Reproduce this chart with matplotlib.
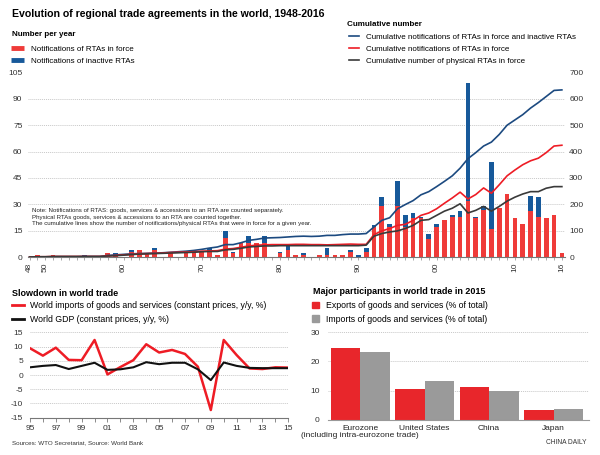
import matplotlib
matplotlib.use("Agg")

import numpy as np
import matplotlib.pyplot as plt
from matplotlib.lines import Line2D
from matplotlib.patches import Patch

plt.rcParams["font.family"] = ["Liberation Sans", "DejaVu Sans"]

# ---- data: regional trade agreements ----
years = np.arange(1948, 2017)
in_force = [0, 1, 0, 1, 0, 0, 0, 0, 0, 0,          # 1948-57
            2, 1, 0, 3, 4, 2, 4, 0, 2, 0,          # 1958-67
            2, 3, 3, 4, 1, 11, 2, 8, 8, 8,         # 1968-77
            8, 0, 2, 4, 1, 1, 0, 1, 1, 1,          # 1978-87
            1, 3, 0, 3, 17, 29, 17, 29, 17, 22,    # 1988-97
            22, 10, 17, 21, 23, 23, 32, 22, 27, 16,  # 1998-2007
            28, 36, 22, 19, 26, 23, 22, 24, 2]     # 2008-16
inactive = [0, 0, 0, 0, 0, 0, 0, 1, 0, 0,
            0, 1, 0, 1, 0, 0, 1, 0, 0, 0,
            0, 0, 0, 1, 0, 4, 1, 0, 4, 0,
            4, 0, 1, 2, 0, 1, 0, 0, 4, 0,
            0, 1, 1, 2, 1, 5, 2, 14, 7, 3,
            1, 3, 2, 0, 1, 3, 67, 1, 2, 38,
            0, 0, 0, 0, 9, 11, 0, 0, 0]
cum_total = [0, 0, 0, 1, 1, 1, 1, 2, 2, 2,
             6, 8, 10, 12, 13, 14, 15, 16, 18, 20,
             22, 25, 29, 34, 38, 47, 47, 54, 63, 67,
             72, 73, 74, 76, 78, 79, 78, 79, 82, 82,
             85, 87, 87, 89, 114, 139, 149, 183, 199, 214,
             236, 248, 267, 287, 308, 337, 373, 396, 421, 436,
             465, 500, 520, 540, 565, 586, 609, 632, 634]
cum_force = [0, 1, 1, 2, 2, 2, 2, 2, 2, 2,
             4, 6, 8, 10, 12, 13, 14, 15, 17, 18,
             19, 20, 22, 23, 24, 30, 32, 37, 42, 45,
             46, 47, 47, 47, 48, 48, 47, 47, 46, 47,
             48, 49, 48, 48, 85, 99, 108, 120, 124, 139,
             158, 167, 183, 204, 224, 246, 220, 237, 262, 242,
             274, 308, 330, 350, 365, 375, 396, 421, 424]
cum_physical = [0, 1, 1, 2, 2, 2, 2, 2, 2, 2,
                4, 5, 7, 9, 11, 12, 13, 14, 15, 16,
                17, 18, 20, 21, 21, 27, 29, 33, 38, 40,
                42, 42, 43, 43, 43, 43, 43, 43, 43, 43,
                43, 43, 43, 45, 79, 89, 95, 99, 108, 120,
                139, 142, 158, 174, 185, 202, 167, 177, 192, 174,
                192, 212, 227, 239, 248, 248, 261, 267, 267]
rta_ticks = [1948, 1950, 1960, 1970, 1980, 1990, 2000, 2010, 2016]
rta_ticklabels = ["48", "50", "60", "70", "80", "90", "00", "10", "16"]

# ---- data: slowdown in world trade ----
trade_years = np.arange(1995, 2016)
world_imports = [9.4, 6.8, 9.6, 5.3, 5.2, 12.3, 0.2, 2.8, 5.2, 10.8, 7.9,
                 8.8, 7.4, 2.9, -12.3, 12.3, 7.0, 2.3, 2.1, 2.7, 2.6]
world_gdp = [2.7, 3.2, 3.5, 2.1, 3.2, 4.3, 1.8, 2.0, 2.7, 4.5, 3.8,
             4.3, 4.3, 2.0, -1.8, 4.4, 3.2, 2.5, 2.4, 2.4, 2.4]

# ---- data: major participants ----
participants = ["Eurozone", "United States", "China", "Japan"]
eurozone_note = "(including intra-eurozone trade)"
exports_share = [24.7, 10.4, 11.3, 3.3]
imports_share = [23.1, 13.4, 9.9, 3.8]

RED = "#ef3b39"
BLUE = "#17599a"
NAVY = "#1c4a80"
LINE_RED = "#ee1c25"
DARK = "#3a3a3a"
GREY = "#9a9a9a"
GRID = dict(color="#c8c8c8", linestyle=(0, (1, 1)), linewidth=0.7)

fig = plt.figure(figsize=(6, 4.55), dpi=100)

# ================= top chart =================
ax = fig.add_axes([28 / 600, 1 - 257 / 455, 537 / 600, 184.5 / 455])
ax.bar(years, in_force, width=0.6, color=RED, zorder=2)
ax.bar(years, inactive, width=0.6, bottom=in_force, color=BLUE, zorder=2)
ax.set_xlim(1947.8, 2016.4)
ax.set_ylim(0, 105)
ax.set_yticks(np.arange(0, 106, 15))
ax.yaxis.grid(True, **GRID)
ax.set_axisbelow(True)
ax.set_xticks(rta_ticks)
ax.set_xticklabels(rta_ticklabels, rotation=90)
ax.set_xticks(years, minor=True)
ax.tick_params(axis="y", length=0, pad=4, labelsize=6, colors="#333333")
ax.tick_params(axis="x", which="both", length=2, width=0.5, color="#888888",
               pad=2, labelsize=6, labelcolor="#333333")
for s in ["top", "right", "left"]:
    ax.spines[s].set_visible(False)
ax.spines["bottom"].set_color("#777777")
ax.spines["bottom"].set_linewidth(0.8)

ax2 = ax.twinx()
ax2.plot(years, cum_total, color=NAVY, lw=1.2, zorder=3)
ax2.plot(years, cum_force, color=LINE_RED, lw=1.2, zorder=3)
ax2.plot(years, cum_physical, color=DARK, lw=1.2, zorder=3)
ax2.set_ylim(0, 700)
ax2.set_yticks(np.arange(0, 701, 100))
ax2.tick_params(axis="y", length=0, pad=3, labelsize=6, colors="#333333")
for s in ax2.spines.values():
    s.set_visible(False)

note = ("Note: Notifications of RTAS: goods, services & accessions to an RTA are counted separately.\n"
        "Physical RTAs goods, services & accessions to an RTA are counted together.\n"
        "The cumulative lines show the number of notifications/physical RTAs that were in force for a given year.")
fig.text(32 / 600, 1 - 208.5 / 455, note, fontsize=4.45, va="top", ha="left",
         color="#222222", linespacing=1.3)

fig.text(12 / 600, 1 - 14 / 455,
         "Evolution of regional trade agreements in the world, 1948-2016",
         fontsize=7.6, fontweight="bold", va="center", ha="left")

fig.text(12 / 600, 1 - 35 / 455, "Number per year", fontsize=5.8,
         fontweight="bold", va="center", ha="left")
fig.legend(
    handles=[Line2D([], [], color=RED, lw=3.5, solid_capstyle="butt"),
             Line2D([], [], color=BLUE, lw=3.5, solid_capstyle="butt")],
    labels=["Notifications of RTAs in force", "Notifications of inactive RTAs"],
    loc="upper left", bbox_to_anchor=(11 / 600, 1 - 45 / 455), frameon=False,
    fontsize=5.8, handlelength=1.6, handletextpad=0.9, labelspacing=0.55,
    borderpad=0, borderaxespad=0)

fig.text(347 / 600, 1 - 24 / 455, "Cumulative number", fontsize=5.8,
         fontweight="bold", va="center", ha="left")
fig.legend(
    handles=[Line2D([], [], color=NAVY, lw=1.2),
             Line2D([], [], color=LINE_RED, lw=1.2),
             Line2D([], [], color=DARK, lw=1.2)],
    labels=["Cumulative notifications of RTAs in force and inactive RTAs",
            "Cumulative notifications of RTAs in force",
            "Cumulative number of physical RTAs in force"],
    loc="upper left", bbox_to_anchor=(349 / 600, 1 - 33 / 455), frameon=False,
    fontsize=5.8, handlelength=1.2, handletextpad=0.9, labelspacing=0.55,
    borderpad=0, borderaxespad=0)

# ================= bottom left =================
bx = fig.add_axes([30 / 600, 1 - 417.7 / 455, 258.3 / 600, 85.4 / 455])
bx.plot(trade_years, world_imports, color=LINE_RED, lw=1.8, zorder=3)
bx.plot(trade_years, world_gdp, color="#111111", lw=1.5, zorder=3)
bx.set_xlim(1995, 2015)
bx.set_ylim(-15, 15)
bx.set_yticks(np.arange(-15, 16, 5))
bx.set_yticklabels([str(v) for v in np.arange(-15, 16, 5)])
bx.yaxis.grid(True, **GRID)
bx.set_axisbelow(True)
bx.set_xticks(trade_years, minor=True)
bx.set_xticks(trade_years[::2])
bx.set_xticklabels([f"{y % 100:02d}" for y in trade_years[::2]])
bx.tick_params(axis="y", length=0, pad=5, labelsize=6, colors="#333333")
bx.tick_params(axis="x", which="both", length=3, width=0.6, color="#777777",
               pad=2, labelsize=6, labelcolor="#333333")
for s in ["top", "right", "left"]:
    bx.spines[s].set_visible(False)
bx.spines["bottom"].set_color("#777777")
bx.spines["bottom"].set_linewidth(0.8)

fig.text(12 / 600, 1 - 294 / 455, "Slowdown in world trade", fontsize=6.5,
         fontweight="bold", va="center", ha="left")
fig.legend(
    handles=[Line2D([], [], color=LINE_RED, lw=2),
             Line2D([], [], color="#111111", lw=2)],
    labels=["World imports of goods and services (constant prices, y/y, %)",
            "World GDP (constant prices, y/y, %)"],
    loc="upper left", bbox_to_anchor=(12 / 600, 1 - 301 / 455), frameon=False,
    fontsize=6.3, handlelength=1.4, handletextpad=0.7, labelspacing=0.55,
    borderpad=0, borderaxespad=0)

fig.text(12 / 600, 1 - 443 / 455, "Sources: WTO Secretariat, Source: World Bank",
         fontsize=4.5, va="center", ha="left", color="#333333")

# ================= bottom right =================
cx = fig.add_axes([328 / 600, 1 - 419.7 / 455, 261 / 600, 87.4 / 455])
pos = np.arange(len(participants))
w = 0.457
cx.bar(pos - w / 2, exports_share, width=w, color="#e8262b", zorder=2)
cx.bar(pos + w / 2, imports_share, width=w, color=GREY, zorder=2)
cx.set_xlim(-0.5, 3.55)
cx.set_ylim(0, 30)
cx.set_yticks([0, 10, 20, 30])
cx.yaxis.grid(True, **GRID)
cx.set_axisbelow(True)
cx.set_xticks(pos)
cx.set_xticklabels(participants)
cx.tick_params(axis="y", length=0, pad=6, labelsize=6, colors="#333333")
cx.tick_params(axis="x", length=0, pad=4, labelsize=6, colors="#222222")
for s in ["top", "right", "left"]:
    cx.spines[s].set_visible(False)
cx.spines["bottom"].set_color("#999999")
cx.spines["bottom"].set_linewidth(0.8)
cx.annotate(eurozone_note, xy=(pos[0], 0), xycoords="data",
            xytext=(0, -9), textcoords="offset points",
            ha="center", va="top", fontsize=6, color="#222222",
            annotation_clip=False)

fig.text(313 / 600, 1 - 292 / 455, "Major participants in world trade in 2015",
         fontsize=6.5, fontweight="bold", va="center", ha="left")
fig.legend(
    handles=[Patch(color="#e8262b"), Patch(color=GREY)],
    labels=["Exports of goods and services (% of total)",
            "Imports of goods and services (% of total)"],
    loc="upper left", bbox_to_anchor=(312 / 600, 1 - 301 / 455), frameon=False,
    fontsize=6.3, handlelength=0.8, handleheight=0.8, handletextpad=0.8,
    labelspacing=0.55, borderpad=0, borderaxespad=0)

fig.text(586 / 600, 1 - 443 / 455, "CHINA DAILY", fontsize=4.8,
         va="center", ha="right", color="#333333")

fig.savefig("out.png", dpi=100)
